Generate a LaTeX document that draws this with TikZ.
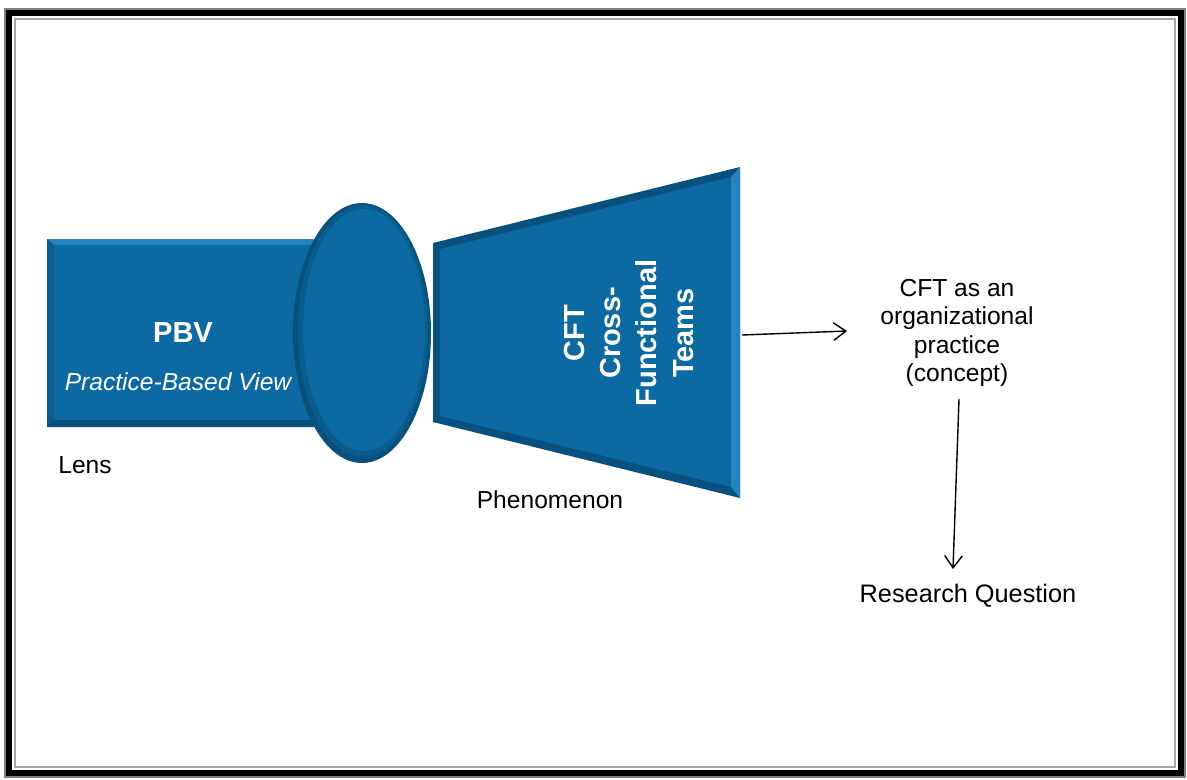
\documentclass[tikz,border=0pt]{standalone}
\usepackage{fontspec}
\setmainfont{Liberation Sans}
\usetikzlibrary{arrows.meta}
\definecolor{lensblue}{RGB}{12,105,162}
\definecolor{lensdark}{RGB}{8,80,126}
\definecolor{lensmid}{RGB}{10,92,142}
\definecolor{lenslight}{RGB}{40,132,188}

\begin{document}
\begin{tikzpicture}[x=0.02cm,y=-0.02cm,
    label/.style={font=\fontsize{14}{17}\selectfont,inner sep=0pt,align=center},
    inlabel/.style={font=\fontsize{16.5}{20.5}\selectfont\bfseries,text=white,inner sep=0pt,align=center},
    link/.style={line width=0.8pt,-{Straight Barb[length=7pt,width=10pt]}}]
    \useasboundingbox (0,0) rectangle (1187,779);
    \draw[gray,line width=1pt] (5,9) rectangle (1185,777);
    \draw[black,line width=3pt] (9,13) rectangle (1181,773);
    \draw[gray!70,line width=1.5pt] (15,19) rectangle (1175,767);

    % lens body
    \fill[lensblue] (47,239) rectangle (330,427);
    \fill[lenslight] (47,239) -- (330,239) -- (330,245) -- (54,245) -- cycle;
    \fill[lensmid] (47,239) -- (54,245) -- (54,420) -- (47,427) -- cycle;
    \fill[lensdark] (47,427) -- (54,420) -- (330,420) -- (330,427) -- cycle;

    \fill[lensdark] (362,333) ellipse [x radius=69, y radius=130];
    \fill[lensmid] (363,331) ellipse [x radius=65, y radius=126];
    \fill[lensblue] (364,330) ellipse [x radius=61, y radius=121];

    \fill[lensdark] (433,243) -- (740,167) -- (740,498) -- (433,422) -- cycle;
    \fill[lensblue] (440,249) -- (731,177) -- (731,487) -- (440,416) -- cycle;
    \fill[lenslight] (731,177) -- (740,167) -- (740,498) -- (731,487) -- cycle;

    \node[inlabel] (pbv) at (183,333) {PBV};
    \node[label,text=white,font=\fontsize{14}{17}\selectfont\itshape] (pbvsub) at (178,382) {Practice-Based View};
    \node[label] (lens) at (85,465) {Lens};
    \node[inlabel,rotate=90] (cft) at (629,333) {CFT\\Cross-\\Functional\\Teams};
    \node[label] (phen) at (550,500) {Phenomenon};
    \node[label,font=\fontsize{14}{16.2}\selectfont] (concept) at (957,333) {CFT as an\\organizational\\practice\\(concept)};
    \node[label,font=\fontsize{14.4}{17}\selectfont] (rq) at (968,596) {Research Question};

    \coordinate (trapR) at (742,335);
    \draw[link] (trapR) -- ([xshift=-0.66cm,yshift=0.04cm]concept.west);
    \draw[link] ([xshift=0.04cm,yshift=-0.24cm]concept.south) -- ([xshift=-0.3cm,yshift=0.3cm]rq.north);
\end{tikzpicture}
\end{document}
